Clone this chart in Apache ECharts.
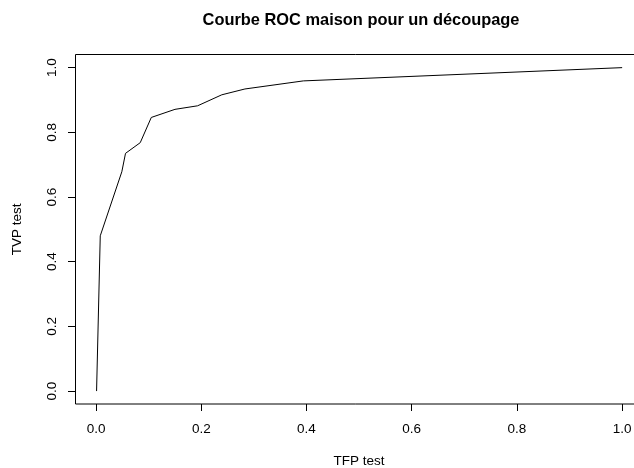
<!DOCTYPE html>
<html>
<head>
<meta charset="utf-8">
<script src="https://cdn.jsdelivr.net/npm/echarts@6/dist/echarts.min.js"></script>
<style>html,body{margin:0;padding:0;background:#fff;}#c{width:634px;height:468px;}</style>
</head>
<body>
<div id="c"></div>
<script>
const tfp = [0.001, 0.008, 0.049, 0.056, 0.084, 0.105, 0.150, 0.193, 0.239, 0.283, 0.394, 1.0];
const tvp = [0.0, 0.48, 0.678, 0.735, 0.768, 0.846, 0.871, 0.882, 0.916, 0.934, 0.959, 1.0];
const tickValues = [0, 0.2, 0.4, 0.6, 0.8, 1.0];
const titleText = 'Courbe ROC maison pour un découpage';
const xName = 'TFP test';
const yName = 'TVP test';

const font = 'Liberation Sans, Arial, Helvetica, sans-serif';
const chart = echarts.init(document.getElementById('c'), null, {renderer: 'canvas'});
const pts = tfp.map((x, i) => [x, tvp[i]]);
chart.setOption({
  animation: false,
  backgroundColor: '#fff',
  grid: {left: 75, top: 54.7, width: 568.2, height: 349.3, outerBoundsMode: 'none', containLabel: false},
  graphic: [
    {type: 'rect', shape: {x: 75.5, y: 54.5, width: 600, height: 349.5},
     style: {fill: 'none', stroke: '#000', lineWidth: 1}, silent: true, z: 10},
    {type: 'text', x: 361, y: 20, style: {text: titleText, fontFamily: font, fontWeight: 'bold',
      fontSize: 16.4, fill: '#000', align: 'center', verticalAlign: 'middle'}}
  ],
  xAxis: {
    type: 'value', min: -0.04, max: 1.04,
    axisLine: {show: false, onZero: false},
    axisTick: {show: true, inside: false, length: 7, customValues: tickValues, lineStyle: {color: '#000'}},
    splitLine: {show: false},
    axisLabel: {customValues: tickValues, formatter: v => v.toFixed(1), color: '#000', fontFamily: font, fontSize: 13.5, margin: 18},
    name: xName, nameLocation: 'middle', nameGap: 50,
    nameTextStyle: {color: '#000', fontFamily: font, fontSize: 13.5}
  },
  yAxis: {
    type: 'value', min: -0.04, max: 1.04,
    axisLine: {show: false, onZero: false},
    axisTick: {show: true, inside: false, length: 7, customValues: tickValues, lineStyle: {color: '#000'}},
    splitLine: {show: false},
    axisLabel: {customValues: tickValues, formatter: v => v.toFixed(1), color: '#000', fontFamily: font, fontSize: 13.5, margin: 16, rotate: 90},
    name: yName, nameLocation: 'middle', nameGap: 51,
    nameTextStyle: {color: '#000', fontFamily: font, fontSize: 13.5}
  },
  series: [{
    type: 'line', data: pts, showSymbol: false, symbol: 'none',
    lineStyle: {color: '#000', width: 1}
  }]
});
</script>
</body>
</html>
